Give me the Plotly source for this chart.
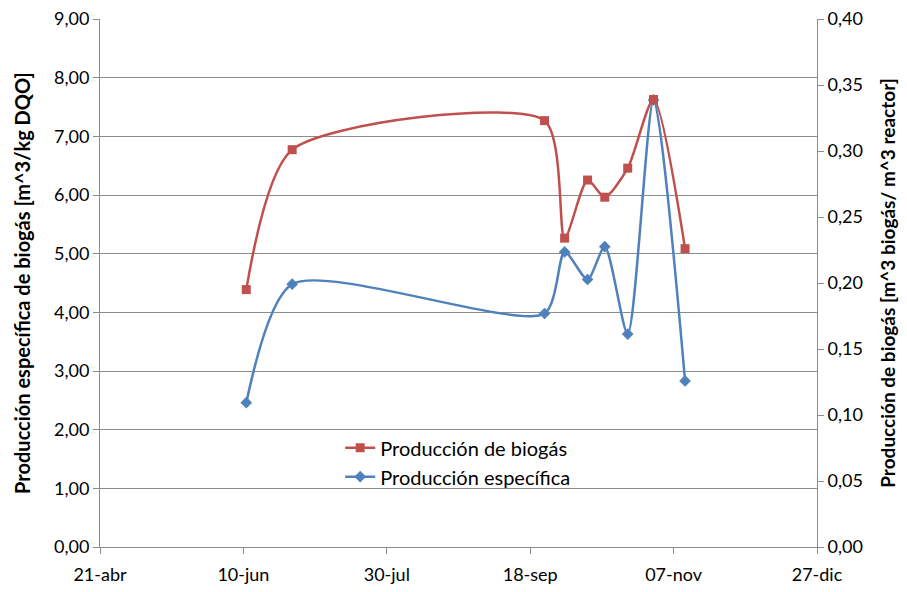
import plotly.graph_objects as go

# sampling dates (year is arbitrary, only day-month is shown)
fechas = ["2010-06-11", "2010-06-27", "2010-09-23", "2010-09-30", "2010-10-08",
          "2010-10-14", "2010-10-22", "2010-10-31", "2010-11-11"]

# m^3 biogas / m^3 reactor (right axis)
prod_biogas = [0.195, 0.301, 0.323, 0.234, 0.278, 0.265, 0.287, 0.339, 0.226]
# m^3 / kg DQO (left axis)
prod_especifica = [2.46, 4.48, 3.98, 5.03, 4.56, 5.12, 3.63, 7.62, 2.83]

tick_fechas = ["2010-04-21", "2010-06-10", "2010-07-30", "2010-09-18", "2010-11-07", "2010-12-27"]
tick_text = ["21-abr", "10-jun", "30-jul", "18-sep", "07-nov", "27-dic"]

RED = "#C0504D"
BLUE = "#4F81BD"
GRID = "#8c8c8c"
FONT = "Lato, 'Open Sans', sans-serif"

fig = go.Figure()
fig.add_trace(go.Scatter(
    x=fechas, y=prod_biogas, name="Producción de biogás", yaxis="y2",
    mode="lines+markers", line=dict(color=RED, width=2.5, shape="spline", smoothing=0.7),
    marker=dict(symbol="square", size=9, color=RED),
))
fig.add_trace(go.Scatter(
    x=fechas, y=prod_especifica, name="Producción específica", yaxis="y",
    mode="lines+markers", line=dict(color=BLUE, width=2.5, shape="spline", smoothing=0.7),
    marker=dict(symbol="diamond", size=9, color=BLUE),
))

# the page body adds 8px around the figure, so the figure is shrunk to fit the window
fig.update_layout(
    width=899, height=584,
    margin=dict(l=92, r=90, t=11, b=45),
    paper_bgcolor="white", plot_bgcolor="white",
    separators=",.",
    font=dict(family=FONT, size=18, color="#000"),
    xaxis=dict(
        range=["2010-04-21", "2010-12-27"], tickvals=tick_fechas, ticktext=tick_text,
        showgrid=False, showline=True, linecolor=GRID, linewidth=1,
        ticks="outside", ticklen=6, tickcolor=GRID, zeroline=False,
        tickfont=dict(size=18), automargin=False, ticklabeloverflow="allow",
        ticklabelstandoff=5,
    ),
    yaxis=dict(
        range=[0, 9], dtick=1, tickformat=".2f",
        showgrid=True, gridcolor=GRID, gridwidth=1,
        showline=True, linecolor=GRID, ticks="outside", ticklen=6, tickcolor=GRID,
        zeroline=False, automargin=False, tickfont=dict(size=18),
        ticklabeloverflow="allow",
        title=dict(text="<b>Producción específica de biogás [m^3/kg DQO]</b>",
                   font=dict(size=20), standoff=17),
    ),
    yaxis2=dict(
        range=[0, 0.40], dtick=0.05, tickformat=".2f", overlaying="y", side="right",
        showgrid=False, showline=True, linecolor=GRID, ticks="outside", ticklen=6,
        tickcolor=GRID, zeroline=False, automargin=False, tickfont=dict(size=18),
        ticklabeloverflow="allow",
        title=dict(text="<b>Producción de biogás [m^3 biogás/ m^3 reactor]</b>",
                   font=dict(size=19), standoff=19),
    ),
    legend=dict(x=0.335, y=0.225, xanchor="left", yanchor="top",
                bgcolor="rgba(0,0,0,0)", font=dict(size=20), tracegroupgap=0,
                itemwidth=30),
    showlegend=True,
)

fig.write_html("out.html")
